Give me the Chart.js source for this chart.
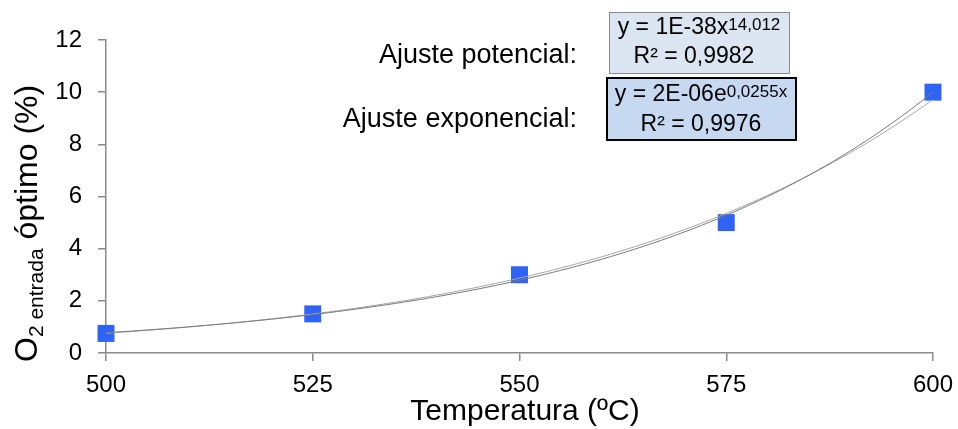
<!DOCTYPE html>
<html>
<head>
<meta charset="utf-8">
<script src="https://cdn.jsdelivr.net/npm/chart.js@4/dist/chart.umd.min.js"></script>
<style>
  html, body { margin: 0; padding: 0; background: #fff; }
  #wrap { width: 958px; height: 429px; }
</style>
</head>
<body>
<div id="wrap"><canvas id="o2Chart" width="958" height="429"></canvas></div>
<script>
// datos
const temperaturas = [500, 525, 550, 575, 600];
const o2Optimo = [0.75, 1.5, 3, 5, 10];
const xTicks = [500, 525, 550, 575, 600];
const yTicks = [0, 2, 4, 6, 8, 10, 12];

const FONT = "Liberation Sans, Arial, sans-serif";
const AXIS_GREY = "#8a8a8a";

// ajuste por mínimos cuadrados sobre ln(y) (igual que la línea de tendencia de Excel)
function linFit(xs, ys) {
  const n = xs.length;
  const mx = xs.reduce((a, b) => a + b, 0) / n;
  const my = ys.reduce((a, b) => a + b, 0) / n;
  let sxy = 0, sxx = 0;
  for (let i = 0; i < n; i++) {
    sxy += (xs[i] - mx) * (ys[i] - my);
    sxx += (xs[i] - mx) * (xs[i] - mx);
  }
  const b = sxy / sxx;
  return { a: my - b * mx, b: b };
}

const lnY = o2Optimo.map(v => Math.log(v));
const expFit = linFit(temperaturas, lnY);
const powFit = linFit(temperaturas.map(v => Math.log(v)), lnY);

function curve(fn) {
  const pts = [];
  for (let t = temperaturas[0]; t <= temperaturas[temperaturas.length - 1]; t += 1) {
    pts.push({ x: t, y: fn(t) });
  }
  return pts;
}
const curvaPotencial = curve(t => Math.exp(powFit.a) * Math.pow(t, powFit.b));
const curvaExponencial = curve(t => Math.exp(expFit.a + expFit.b * t));

// textos fijos: titulos y etiquetas de los ajustes
const textosPlugin = {
  id: "textos",
  afterDraw(chart) {
    const ctx = chart.ctx;
    ctx.save();
    ctx.fillStyle = "#000";
    ctx.textBaseline = "alphabetic";

    // titulo eje X
    ctx.font = "30px " + FONT;
    ctx.textAlign = "center";
    ctx.fillText("Temperatura (ºC)", 525, 420);

    // titulo eje Y con subindice
    ctx.save();
    ctx.translate(37, 362);
    ctx.rotate(-Math.PI / 2);
    ctx.textAlign = "left";
    let x = 0;
    ctx.font = "32px " + FONT;
    ctx.fillText("O", x, 0);
    x += ctx.measureText("O").width;
    ctx.font = "21px " + FONT;
    ctx.fillText("2 entrada", x, 6);
    x += ctx.measureText("2 entrada").width;
    ctx.font = "32px " + FONT;
    x += ctx.measureText(" ").width;
    ctx.fillText("óptimo (%)", x, 0);
    ctx.restore();

    // etiquetas
    ctx.font = "27px " + FONT;
    ctx.textAlign = "right";
    ctx.fillText("Ajuste potencial:", 577, 63);
    ctx.fillText("Ajuste exponencial:", 577, 127);

    // cajas de ecuaciones
    ctx.fillStyle = "#dce6f2";
    ctx.fillRect(609, 12, 181, 62);
    ctx.strokeStyle = "#8c8c8c";
    ctx.lineWidth = 1;
    ctx.strokeRect(609.5, 12.5, 180, 61);

    ctx.fillStyle = "#c6d9f1";
    ctx.fillRect(606, 77, 191, 64);
    ctx.strokeStyle = "#000";
    ctx.lineWidth = 2;
    ctx.strokeRect(607, 78, 189, 62);

    function eqLine(base, sup, cx, baseline) {
      ctx.font = "23px " + FONT;
      const w1 = ctx.measureText(base).width;
      ctx.font = "17px " + FONT;
      const w2 = ctx.measureText(sup).width;
      const x0 = cx - (w1 + w2) / 2;
      ctx.textAlign = "left";
      ctx.fillStyle = "#000";
      ctx.font = "23px " + FONT;
      ctx.fillText(base, x0, baseline);
      ctx.font = "17px " + FONT;
      ctx.fillText(sup, x0 + w1, baseline - 4);
    }
    eqLine("y = 1E-38x", "14,012", 699, 34);
    eqLine("R² = 0,9982", "", 694, 63);
    eqLine("y = 2E-06e", "0,0255x", 701, 101);
    eqLine("R² = 0,9976", "", 701, 131);

    ctx.restore();
  }
};

new Chart(document.getElementById("o2Chart"), {
  type: "scatter",
  data: {
    datasets: [
      {
        label: "O2 óptimo",
        data: temperaturas.map((t, i) => ({ x: t, y: o2Optimo[i] })),
        pointStyle: "rect",
        pointRadius: 12,
        pointHoverRadius: 12,
        backgroundColor: "#2f63f6",
        borderColor: "#2f63f6",
        borderWidth: 0,
        clip: false,
        order: 2
      },
      {
        type: "line",
        label: "Ajuste potencial",
        data: curvaPotencial,
        borderColor: "#a6a6a6",
        borderWidth: 1,
        pointRadius: 0,
        fill: false,
        order: 1
      },
      {
        type: "line",
        label: "Ajuste exponencial",
        data: curvaExponencial,
        borderColor: "#7a7a7a",
        borderWidth: 1,
        pointRadius: 0,
        fill: false,
        order: 0
      }
    ]
  },
  options: {
    responsive: false,
    animation: false,
    layout: { padding: { left: 0, right: 25, top: 40, bottom: 0 } },
    plugins: { legend: { display: false }, tooltip: { enabled: false } },
    scales: {
      x: {
        type: "linear",
        min: 500,
        max: 600,
        afterFit(scale) {
          scale.height = 76;
          scale.paddingLeft = 0;
          scale.paddingRight = 0;
        },
        afterBuildTicks(scale) { scale.ticks = xTicks.map(v => ({ value: v })); },
        ticks: { font: { family: FONT, size: 24 }, color: "#000", padding: 10 },
        grid: { drawOnChartArea: false, drawTicks: true, tickLength: 8, color: AXIS_GREY, lineWidth: 1.5 },
        border: { color: AXIS_GREY, width: 1.5 }
      },
      y: {
        min: 0,
        max: 12,
        afterFit(scale) {
          scale.width = 106;
          scale.paddingTop = 0;
          scale.paddingBottom = 0;
        },
        afterBuildTicks(scale) { scale.ticks = yTicks.map(v => ({ value: v })); },
        ticks: { font: { family: FONT, size: 24 }, color: "#000", padding: 16 },
        grid: { drawOnChartArea: false, drawTicks: true, tickLength: 8, color: AXIS_GREY, lineWidth: 1.5 },
        border: { color: AXIS_GREY, width: 1.5 }
      }
    }
  },
  plugins: [textosPlugin]
});
</script>
</body>
</html>
